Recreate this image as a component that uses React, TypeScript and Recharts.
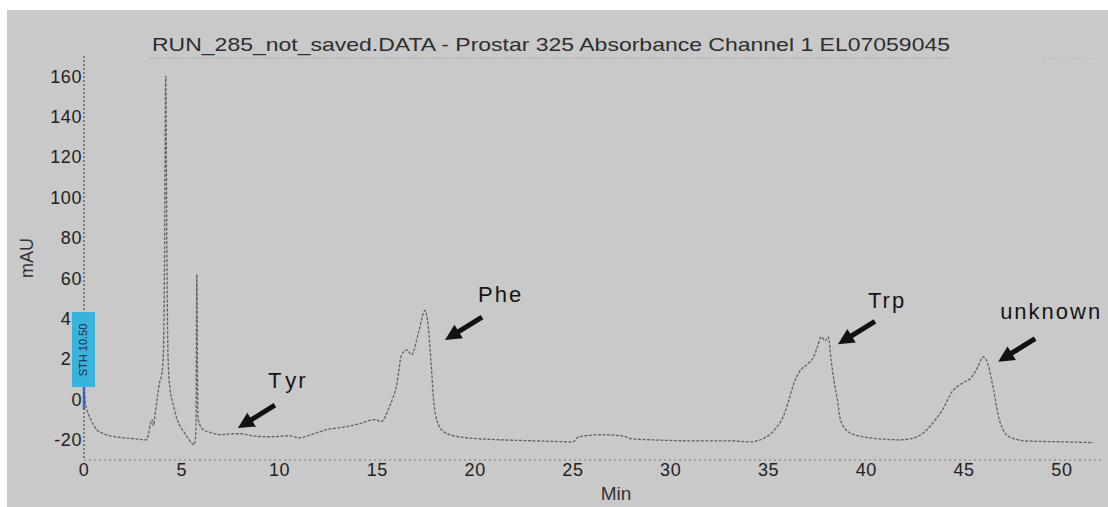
import React from 'react';
import { LineChart, Line, XAxis, YAxis, ReferenceDot, ReferenceLine } from 'recharts';

// Retention time (min)
const times = [
  0.0, 0.05, 0.15, 0.35, 0.65, 1.0, 1.33, 2.0, 2.6, 3.2, 3.3, 3.4, 3.48, 3.55, 3.65, 3.78, 3.88, 3.97,
  4.05, 4.11, 4.18, 4.24, 4.3, 4.4, 4.55, 4.7, 4.9, 5.1, 5.3, 5.5, 5.62, 5.72, 5.77, 5.82, 5.9, 6.1,
  6.5, 7.0, 7.6, 8.0, 8.6, 9.5, 10.5, 11.0, 11.6, 12.4, 13.4, 14.1, 14.9, 15.2, 15.6, 16.0, 16.24,
  16.5, 16.75, 17.1, 17.44, 17.6, 17.76, 17.9, 18.2, 18.7, 19.6, 21.3, 23.0, 25.0, 25.3, 26.4, 27.5,
  28.0, 29.0, 31.0, 33.0, 34.05, 34.9, 35.4, 35.75, 36.05, 36.3, 36.6, 37.0, 37.3, 37.5, 37.7, 37.9,
  38.05, 38.2, 38.35, 38.5, 38.7, 39.2, 40.0, 41.7, 42.2, 42.7, 43.1, 43.5, 43.9, 44.4, 44.9, 45.4,
  45.7, 45.98, 46.2, 46.5, 46.8, 47.3, 48.2, 50.0, 51.6,
];

// Absorbance (mAU)
const absorbance = [
  6, 0, -5, -10, -15, -17, -18, -19, -19.5, -20, -17, -12, -10, -13, -6, 3, 9, 12,
  20, 60, 160, 70, 20, 5, -2, -8, -13, -16, -19, -21.5, -22.5, -17, 62, -8, -12, -15,
  -16.5, -17.5, -17, -17, -18, -18.5, -18, -19, -17.5, -15, -13.5, -12, -10, -11, -4, 8, 22,
  24.5, 22, 33, 44, 36, 16, -3, -14, -17.5, -19, -20, -20.5, -21, -18.5, -17.5, -18,
  -19.5, -20, -20.5, -20.5, -21, -18.5, -14, -8.6, 0, 8, 14, 17.5, 21, 26, 31, 29,
  31, 19.5, 9, 1, -11, -16.8, -18.8, -20, -19.6, -18, -15, -10.5, -5, 4, 8, 11.2,
  16, 21, 18, 5, -10, -18.5, -20.6, -21, -21.4,
];

const xTicks = [0, 5, 10, 15, 20, 25, 30, 35, 40, 45, 50];
const yTicks = [-20, 0, 20, 40, 60, 80, 100, 120, 140, 160];

// Peak annotations: label, arrow tip (min, mAU)
const peakLabels = ['Tyr', 'Phe', 'Trp', 'unknown'];
const peakTipX = [7.87, 18.46, 38.55, 46.74];
const peakTipY = [-14.2, 29.4, 27.3, 18.7];

const TITLE = 'RUN_285_not_saved.DATA - Prostar 325 Absorbance Channel 1 EL07059045';

const data = times.map((t, i) => ({ t, v: absorbance[i] }));

// text offset from arrow tip (px)
const labelOffsets: Record<string, [number, number]> = {
  Tyr: [30, -40],
  Phe: [33, -38],
  Trp: [30, -36],
  unknown: [2, -43],
};

const FONT = '"Liberation Sans", Arial, sans-serif';

function ArrowLabel(props: any) {
  const { cx, cy, name } = props;
  if (cx == null || cy == null) return null;
  const tailX = cx + 37;
  const tailY = cy - 23;
  const dx = cx - tailX;
  const dy = cy - tailY;
  const len = Math.sqrt(dx * dx + dy * dy);
  const ux = dx / len;
  const uy = dy / len;
  const px = -uy;
  const py = ux;
  const headLen = 16;
  const headHalf = 8;
  const bx = cx - ux * headLen;
  const by = cy - uy * headLen;
  const [ox, oy] = labelOffsets[name];
  return (
    <g>
      <line x1={tailX} y1={tailY} x2={bx + ux * 2} y2={by + uy * 2} stroke="#111" strokeWidth={5} />
      <polygon
        points={`${cx},${cy} ${bx + px * headHalf},${by + py * headHalf} ${bx - px * headHalf},${by - py * headHalf}`}
        fill="#111"
      />
      <text x={cx + ox} y={cy + oy} fontFamily={FONT} fontSize={22} letterSpacing={2} fill="#151515">
        {name === 'Tyr' ? (
          <>
            <tspan>T</tspan>
            <tspan dx={3}>yr</tspan>
          </>
        ) : (
          name
        )}
      </text>
    </g>
  );
}

export default function App() {
  return (
    <div style={{ position: 'absolute', left: 0, top: 0, width: 1108, height: 507, background: '#ffffff' }}>
      <div style={{ position: 'absolute', left: 7, top: 10, width: 1101, height: 497, background: '#c9c9c9' }} />
      <div style={{ position: 'absolute', left: 0, top: 0 }}>
        <LineChart
          width={1108}
          height={507}
          data={data}
          margin={{ top: 56, right: 7, bottom: 17, left: 24 }}
        >
          <XAxis
            dataKey="t"
            type="number"
            domain={[0, 52]}
            ticks={xTicks}
            height={30}
            tickLine={false}
            tickSize={0}
            tickMargin={3}
            axisLine={{ stroke: '#7a7a7a', strokeDasharray: '2 3', strokeWidth: 1.2 }}
            tick={{ fill: '#222', fontSize: 18, fontFamily: FONT, letterSpacing: 0.6 }}
          />
          <YAxis
            type="number"
            domain={[-30, 170]}
            ticks={yTicks}
            width={60}
            tickLine={false}
            tickSize={0}
            tickMargin={2}
            axisLine={{ stroke: '#555', strokeDasharray: '2 2', strokeWidth: 1.3 }}
            tick={{ fill: '#222', fontSize: 18, fontFamily: FONT, letterSpacing: 0.6 }}
          />
          <ReferenceLine
            segment={[{ x: 3.4, y: 169 }, { x: 44.3, y: 169 }]}
            stroke="#8a8a8a"
            strokeDasharray="1 2"
            ifOverflow="visible"
          />
          <ReferenceLine
            segment={[{ x: 49, y: 168.5 }, { x: 51.6, y: 168.5 }]}
            stroke="#b8b890"
            strokeDasharray="1 2"
            ifOverflow="visible"
          />
          <Line
            type="monotone"
            dataKey="v"
            stroke="#626262"
            strokeWidth={1.3}
            strokeDasharray="3 1.5"
            dot={false}
            isAnimationActive={false}
          />
          <ReferenceLine
            segment={[{ x: 0, y: 7 }, { x: 0, y: -5 }]}
            stroke="#4a64d0"
            strokeWidth={2.5}
            ifOverflow="visible"
          />
          {peakLabels.map((name, i) => (
            <ReferenceDot
              key={name}
              x={peakTipX[i]}
              y={peakTipY[i]}
              r={0}
              ifOverflow="visible"
              shape={(p: any) => <ArrowLabel {...p} name={name} />}
            />
          ))}
        </LineChart>
      </div>
      <svg
        width={1108}
        height={507}
        style={{ position: 'absolute', left: 0, top: 0, pointerEvents: 'none' }}
      >
        <text
          x={152}
          y={51}
          fontFamily={FONT}
          fontSize={19}
          fill="#2e2e2e"
          textLength={798}
          lengthAdjust="spacingAndGlyphs"
        >
          {TITLE}
        </text>
        <text
          x={33}
          y={258}
          transform="rotate(-90 33 258)"
          textAnchor="middle"
          fontFamily={FONT}
          fontSize={18}
          fill="#333"
        >
          mAU
        </text>
        <text x={616} y={500} textAnchor="middle" fontFamily={FONT} fontSize={19} fill="#333">
          Min
        </text>
      </svg>
      <div
        style={{
          position: 'absolute',
          left: 72,
          top: 312,
          width: 23,
          height: 75,
          background: '#3ab3dc',
          display: 'flex',
          alignItems: 'center',
          justifyContent: 'center',
        }}
      >
        <span
          style={{
            transform: 'rotate(-90deg)',
            whiteSpace: 'nowrap',
            fontFamily: FONT,
            fontSize: 11,
            color: '#1c2c44',
          }}
        >
          STH 10.50
        </span>
      </div>
    </div>
  );
}
